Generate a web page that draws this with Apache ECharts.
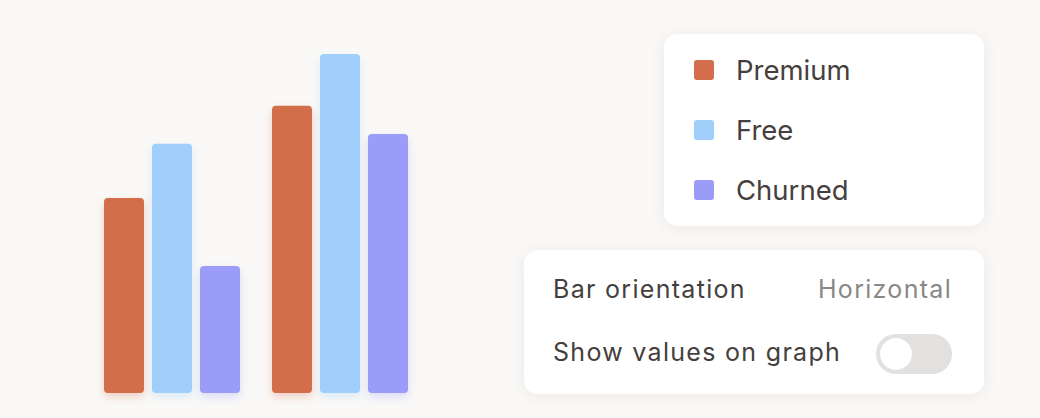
<!DOCTYPE html>
<html>
<head>
<meta charset="utf-8">
<script src="https://cdn.jsdelivr.net/npm/echarts@6/dist/echarts.min.js"></script>
<style>
  html, body { margin: 0; padding: 0; background: #FAF9F7; }
  #chart { width: 1040px; height: 418px; }
</style>
</head>
<body>
<div id="chart"></div>
<script>
const categories = ['Group A', 'Group B'];
const seriesNames = ['Premium', 'Free', 'Churned'];
const premiumValues = [57.5, 84.7];
const freeValues = [73.5, 100];
const churnedValues = [37.5, 76.4];
const seriesColors = ['#D36E4C', '#A1CFFB', '#9A9CF7'];
const shadowColors = ['rgba(211,110,76,0.30)', 'rgba(161,207,251,0.35)', 'rgba(154,156,247,0.35)'];
const settingLabels = ['Bar orientation', 'Show values on graph'];
const orientationValue = 'Horizontal';

const FONT = 'Inter, "Noto Sans", sans-serif';
const chart = echarts.init(document.getElementById('chart'), null, { renderer: 'svg' });

const valueSets = [premiumValues, freeValues, churnedValues];
const series = seriesNames.map((name, i) => ({
  name: name,
  type: 'bar',
  data: valueSets[i],
  barWidth: 40,
  barGap: '20%',
  itemStyle: {
    color: seriesColors[i],
    borderRadius: 4,
    shadowBlur: 10,
    shadowOffsetY: 4,
    shadowColor: shadowColors[i]
  },
  emphasis: { disabled: true }
}));

chart.setOption({
  backgroundColor: '#FAF9F7',
  animation: false,
  grid: { left: 88, width: 336, top: 54, bottom: 25 },
  xAxis: { type: 'category', data: categories, show: false },
  yAxis: { type: 'value', min: 0, max: 100, show: false },
  legend: {
    orient: 'vertical',
    left: 694,
    top: 56,
    padding: 0,
    itemWidth: 20,
    itemHeight: 20,
    itemGap: 32,
    icon: 'path://M3,0 h14 a3,3 0 0 1 3,3 v14 a3,3 0 0 1 -3,3 h-14 a3,3 0 0 1 -3,-3 v-14 a3,3 0 0 1 3,-3 z',
    z: 10,
    data: seriesNames,
    formatter: '{t|{name}}',
    textStyle: {
      rich: {
        t: {
          fontFamily: FONT,
          fontSize: 27.5,
          lineHeight: 28,
          color: '#45403D',
          padding: [0, 0, 0, 17]
        }
      }
    },
    selectedMode: false
  },
  graphic: [
    {
      type: 'rect', z: 1,
      shape: { x: 664, y: 34, width: 320, height: 192, r: 14 },
      style: { fill: '#FFFFFF', shadowBlur: 16, shadowOffsetY: 2, shadowColor: 'rgba(60,40,20,0.07)' }
    },
    {
      type: 'rect', z: 1,
      shape: { x: 524, y: 250, width: 460, height: 144, r: 14 },
      style: { fill: '#FFFFFF', shadowBlur: 16, shadowOffsetY: 2, shadowColor: 'rgba(60,40,20,0.07)' }
    },
    {
      type: 'text', z: 2,
      style: { x: 553, y: 289, text: settingLabels[0], font: '25px ' + FONT, fill: '#45403D', textVerticalAlign: 'middle' }
    },
    {
      type: 'text', z: 2,
      style: { x: 952, y: 289, text: orientationValue, font: '25px ' + FONT, fill: '#8A8784', textAlign: 'right', textVerticalAlign: 'middle' }
    },
    {
      type: 'text', z: 2,
      style: { x: 553, y: 351.5, text: settingLabels[1], font: '25px ' + FONT, fill: '#45403D', textVerticalAlign: 'middle' }
    },
    {
      type: 'rect', z: 2,
      shape: { x: 876, y: 334, width: 76, height: 40, r: 20 },
      style: { fill: '#E2E1DF' }
    },
    {
      type: 'circle', z: 3,
      shape: { cx: 896, cy: 354, r: 16 },
      style: { fill: '#FFFFFF' }
    }
  ],
  series: series
});

function spaceSettingsText() {
  const wanted = settingLabels.concat([orientationValue]);
  document.querySelectorAll('#chart text').forEach(function (el) {
    if (wanted.indexOf(el.textContent) >= 0) {
      el.style.letterSpacing = '1.3px';
    }
  });
}
spaceSettingsText();
chart.on('finished', spaceSettingsText);
</script>
</body>
</html>
